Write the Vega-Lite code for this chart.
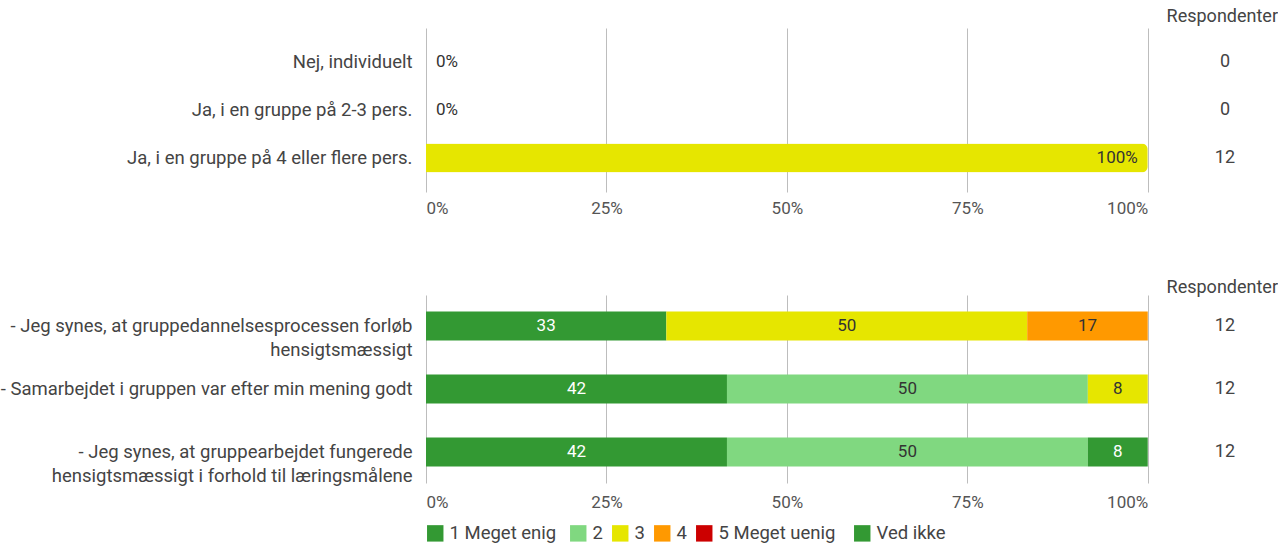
{
  "$schema": "https://vega.github.io/schema/vega-lite/v6.json",
  "background": "white",
  "padding": {"left": 0, "top": 8, "right": 0, "bottom": 0},
  "config": {
    "font": "Roboto",
    "view": {"stroke": null},
    "axisX": {"grid": true, "gridColor": "#bdbdbd", "domain": false, "ticks": false, "labelFontSize": 17, "labelColor": "#555", "labelPadding": 8, "labelFlush": false, "title": null},
    "axisY": {"domain": false, "ticks": false, "grid": false, "labelFontSize": 18.5, "labelColor": "#444", "labelPadding": 14, "labelLimit": 600, "labelLineHeight": 24, "title": null, "labelExpr": "split(datum.label, '|')"}
  },
  "datasets": {
    "top": [
      {"q": "Nej, individuelt", "share": 0, "n": 0},
      {"q": "Ja, i en gruppe på 2-3 pers.", "share": 0, "n": 0},
      {"q": "Ja, i en gruppe på 4 eller flere pers.", "share": 1, "n": 12}
    ],
    "bottom": [
      {"q": "- Jeg synes, at gruppedannelsesprocessen forløb|hensigtsmæssigt", "cat": "1  Meget enig", "pct": 33.3},
      {"q": "- Jeg synes, at gruppedannelsesprocessen forløb|hensigtsmæssigt", "cat": "3", "pct": 50},
      {"q": "- Jeg synes, at gruppedannelsesprocessen forløb|hensigtsmæssigt", "cat": "4", "pct": 16.7},
      {"q": "- Samarbejdet i gruppen var efter min mening godt", "cat": "1  Meget enig", "pct": 41.7},
      {"q": "- Samarbejdet i gruppen var efter min mening godt", "cat": "2", "pct": 50},
      {"q": "- Samarbejdet i gruppen var efter min mening godt", "cat": "3", "pct": 8.3},
      {"q": "- Jeg synes, at gruppearbejdet fungerede|hensigtsmæssigt i forhold til læringsmålene", "cat": "1  Meget enig", "pct": 41.7},
      {"q": "- Jeg synes, at gruppearbejdet fungerede|hensigtsmæssigt i forhold til læringsmålene", "cat": "2", "pct": 50},
      {"q": "- Jeg synes, at gruppearbejdet fungerede|hensigtsmæssigt i forhold til læringsmålene", "cat": "Ved ikke", "pct": 8.3}
    ],
    "bottomN": [
      {"q": "- Jeg synes, at gruppedannelsesprocessen forløb|hensigtsmæssigt", "n": 12},
      {"q": "- Samarbejdet i gruppen var efter min mening godt", "n": 12},
      {"q": "- Jeg synes, at gruppearbejdet fungerede|hensigtsmæssigt i forhold til læringsmålene", "n": 12}
    ]
  },
  "vconcat": [
    {
      "width": 830,
      "height": 164,
      "title": {"text": "Respondenter", "anchor": "end", "dx": 22, "fontSize": 18, "fontWeight": "normal", "color": "#444", "offset": 2},
      "data": {"name": "top"},
      "encoding": {
        "y": {"field": "q", "type": "nominal", "sort": null, "scale": {"paddingInner": 0.4, "paddingOuter": 0.408}}
      },
      "layer": [
        {
          "mark": {"type": "bar", "color": "#e6e600", "cornerRadiusEnd": 6},
          "encoding": {"x": {"field": "share", "type": "quantitative", "scale": {"domain": [0, 1.15], "nice": false},
            "axis": {"values": [0, 0.25, 0.5, 0.75, 1], "format": ".0%",
              "labelAlign": {"expr": "datum.value == 0 ? 'left' : datum.value == 1 ? 'right' : 'center'"}}}}
        },
        {
          "transform": [{"filter": "datum.share == 0"}],
          "mark": {"type": "text", "align": "left", "dx": 10, "fontSize": 17, "color": "#333"},
          "encoding": {"x": {"field": "share", "type": "quantitative"}, "text": {"field": "share", "type": "quantitative", "format": ".0%"}}
        },
        {
          "transform": [{"filter": "datum.share > 0"}],
          "mark": {"type": "text", "align": "right", "dx": -10, "fontSize": 17, "color": "#333"},
          "encoding": {"x": {"field": "share", "type": "quantitative"}, "text": {"field": "share", "type": "quantitative", "format": ".0%"}}
        },
        {
          "mark": {"type": "text", "align": "center", "fontSize": 18, "color": "#444"},
          "encoding": {"x": {"datum": 1.107, "type": "quantitative"}, "text": {"field": "n", "type": "quantitative"}}
        }
      ]
    },
    {
      "width": 830,
      "height": 188,
      "title": {"text": "Respondenter", "anchor": "end", "dx": 22, "fontSize": 18, "fontWeight": "normal", "color": "#444", "offset": -2},
      "encoding": {
        "y": {"field": "q", "type": "nominal", "sort": null, "scale": {"paddingInner": 0.54, "paddingOuter": 0.262}}
      },
      "layer": [
        {
          "data": {"name": "bottom"},
          "mark": {"type": "bar"},
          "encoding": {
            "x": {"field": "pct", "type": "quantitative", "stack": "zero", "scale": {"domain": [0, 115], "nice": false},
              "axis": {"values": [0, 25, 50, 75, 100], "labelExpr": "datum.value + '%'", "labelPadding": 11,
                "labelAlign": {"expr": "datum.value == 0 ? 'left' : datum.value == 100 ? 'right' : 'center'"}}},
            "order": {"field": "cat", "sort": "ascending"},
            "color": {"field": "cat", "type": "nominal",
              "scale": {"domain": ["1  Meget enig", "2", "3", "4", "5  Meget  uenig", "Ved ikke"], "range": ["#339933", "#80d880", "#e6e600", "#ff9900", "#cc0000", "#339933"]},
              "legend": {"orient": "bottom", "title": null, "symbolType": "square", "symbolSize": 270, "symbolStrokeWidth": 0, "labelFontSize": 18.5, "labelColor": "#444", "labelOffset": 5, "columnPadding": 8, "offset": 14}
            }
          }
        },
        {
          "data": {"name": "bottom"},
          "mark": {"type": "text", "fontSize": 17},
          "encoding": {
            "x": {"field": "pct", "type": "quantitative", "stack": "zero", "bandPosition": 0.5},
            "order": {"field": "cat", "sort": "ascending"},
            "detail": {"field": "cat", "type": "nominal"},
            "text": {"field": "pct", "type": "quantitative", "format": ".0f"},
            "color": {"condition": {"test": "datum.cat == '1  Meget enig' || datum.cat == 'Ved ikke'", "value": "white"}, "value": "#333"}
          }
        },
        {
          "data": {"name": "bottomN"},
          "mark": {"type": "text", "align": "center", "fontSize": 18, "color": "#444"},
          "encoding": {"x": {"datum": 110.7, "type": "quantitative"}, "text": {"field": "n", "type": "quantitative"}}
        }
      ]
    }
  ],
  "spacing": 63
}
